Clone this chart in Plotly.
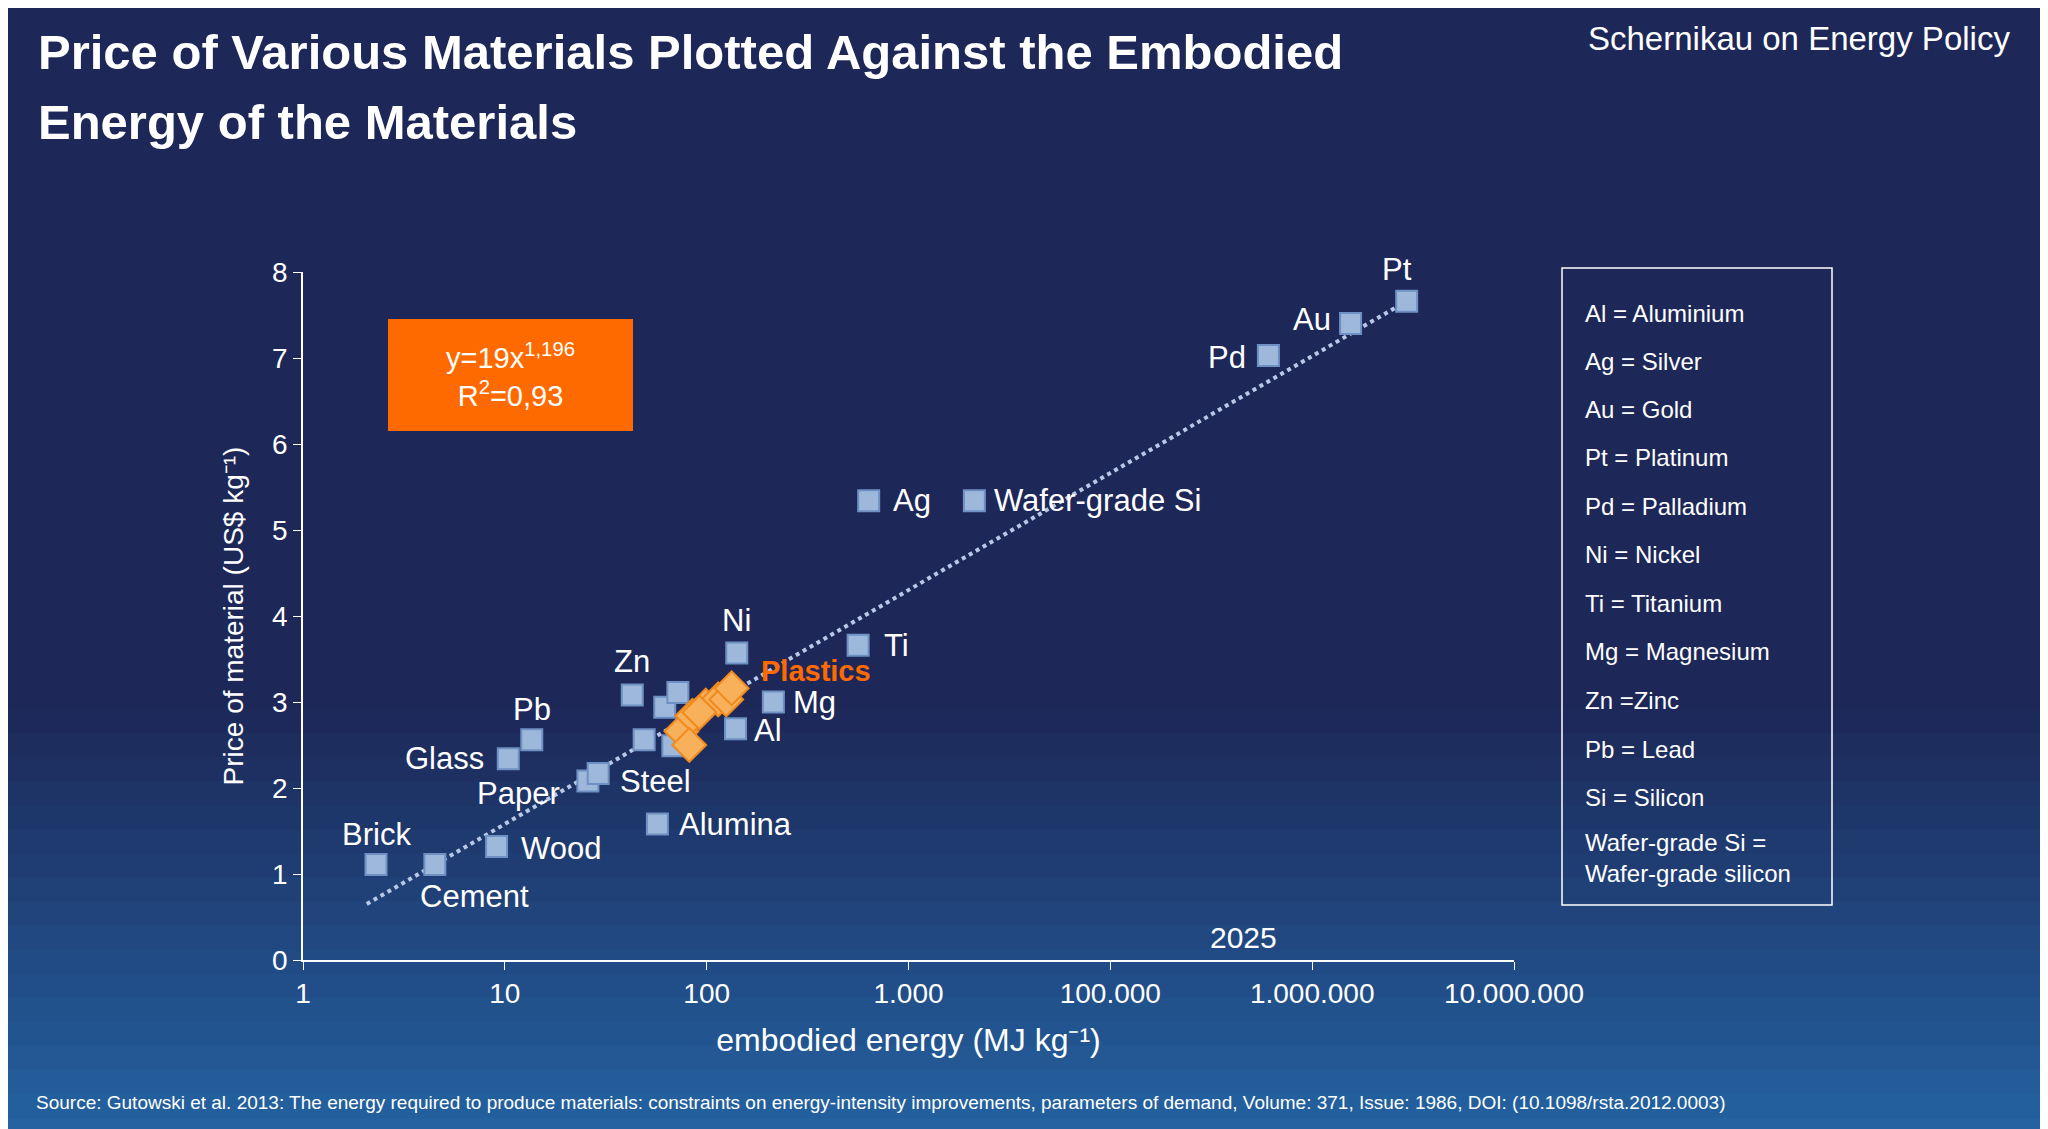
import math
import plotly.graph_objects as go

# values (x = embodied energy on a log axis, y = price axis)
mat_names = ["Brick", "Cement", "Wood", "Paper", "Steel", "Glass", "Pb", "Zn", "m1", "m2", "m3", "m4",
             "Alumina", "Ni", "Al", "Mg", "Ti", "Ag", "Wafer-grade Si", "Pd", "Au", "Pt"]
mat_energy = [2.3, 4.5, 9.1, 25.8, 29, 10.4, 13.6, 42.8, 62, 72, 49, 68,
              57, 141, 139, 214, 563, 635, 2120, 60700, 155000, 294000]
mat_price = [1.11, 1.11, 1.32, 2.08, 2.17, 2.34, 2.56, 3.08, 2.94, 3.11, 2.56, 2.49,
             1.58, 3.57, 2.69, 3.0, 3.66, 5.34, 5.34, 7.03, 7.4, 7.66]

plastic_energy = [75, 85, 82, 99, 114, 125, 133, 92]
plastic_price = [2.66, 2.84, 2.5, 2.96, 3.03, 3.03, 3.16, 2.88]

trend_energy = [2.07, 294000]
trend_price = [0.65, 7.66]

x_tickvals = [1, 10, 100, 1000, 10000, 100000, 1000000]
x_ticktext = ["1", "10", "100", "1.000", "100.000", "1.000.000", "10.000.000"]

legend_lines = ["Al = Aluminium", "Ag = Silver", "Au = Gold", "Pt = Platinum", "Pd = Palladium",
                "Ni = Nickel", "Ti = Titanium", "Mg = Magnesium", "Zn =Zinc", "Pb = Lead",
                "Si = Silicon", "Wafer-grade Si =<br>Wafer-grade silicon"]

# label placement: (dx, dy, xanchor) in pixels, dy positive = down
label_pos = {
    "Brick": (0, -30, "center"), "Cement": (40, 32, "center"), "Wood": (22, 2, "left"),
    "Paper": (-26, 12, "right"), "Steel": (20, 8, "left"), "Glass": (-22, 0, "right"),
    "Pb": (0, -30, "center"), "Zn": (0, -34, "center"), "Alumina": (20, 0, "left"),
    "Ni": (0, -32, "center"), "Al": (16, 2, "left"), "Mg": (18, 0, "left"),
    "Ti": (24, 0, "left"), "Ag": (22, 0, "left"), "Wafer-grade Si": (18, 0, "left"),
    "Pd": (-20, 2, "right"), "Au": (-18, -4, "right"), "Pt": (-10, -32, "center"),
}
FONT = "Liberation Sans"

fig = go.Figure()

fig.add_trace(go.Scatter(x=trend_energy, y=trend_price, mode="lines",
                         line=dict(color="#b8c8e6", width=4, dash="dot"), hoverinfo="skip"))
fig.add_trace(go.Scatter(x=mat_energy, y=mat_price, mode="markers",
                         marker=dict(symbol="square", size=21, color="#9db8da",
                                     line=dict(color="#6f90c2", width=2))))
fig.add_trace(go.Scatter(x=plastic_energy, y=plastic_price, mode="markers",
                         marker=dict(symbol="diamond", size=26, color="#f8b05a",
                                     line=dict(color="#f08a1c", width=2))))

for n, xv, yv in zip(mat_names, mat_energy, mat_price):
    if n in label_pos:
        dx, dy, anc = label_pos[n]
        fig.add_annotation(x=math.log10(xv), y=yv, xref="x", yref="y", text=n, showarrow=False,
                           xshift=dx, yshift=-dy, xanchor=anc, yanchor="middle",
                           font=dict(size=31, color="white", family=FONT))

fig.add_annotation(x=math.log10(133), y=3.16, text="<b>Plastics</b>", showarrow=False, xanchor="left",
                   yanchor="middle", xshift=27, yshift=17, font=dict(size=29, color="#ff6a00", family=FONT))

# background gradient
top = (29, 40, 88)
bot = (37, 104, 168)
n_bands = 50
y_lo, y_hi = -0.3, 1.45
for i in range(n_bands):
    f0 = i / n_bands
    f1 = (i + 1) / n_bands
    t = max(0.0, 1 - (f0 + 0.5 / n_bands) / 0.38)
    c = tuple(int(top[k] + (bot[k] - top[k]) * t) for k in range(3))
    fig.add_shape(type="rect", xref="paper", yref="paper", x0=-0.4, x1=1.6,
                  y0=y_lo + f0 * (y_hi - y_lo), y1=y_lo + f1 * (y_hi - y_lo) + 0.002,
                  fillcolor="rgb(%d,%d,%d)" % c, line=dict(width=0), layer="below")

W, H = 2048, 1129
L, R, T, B = 295, 542, 264, 177
pw, ph = W - L - R, H - T - B


def px(x):
    return (x - 8 - L) / pw


def py(y):
    return (H - B - (y - 8)) / ph


# legend box
fig.add_shape(type="rect", xref="paper", yref="paper", x0=px(1562), x1=px(1832), y0=py(905), y1=py(268),
              line=dict(color="white", width=1.5), fillcolor="rgba(0,0,0,0)")
ys = [313, 361, 409, 457, 506, 554, 603, 651, 700, 749, 797]
for txt, yy in zip(legend_lines[:-1], ys):
    fig.add_annotation(xref="paper", yref="paper", x=px(1583), y=py(yy), text=txt, showarrow=False,
                       xanchor="left", yanchor="middle", font=dict(size=24, color="white", family=FONT))
fig.add_annotation(xref="paper", yref="paper", x=px(1583), y=py(858), text=legend_lines[-1], showarrow=False,
                   xanchor="left", yanchor="middle", align="left",
                   font=dict(size=24, color="white", family=FONT))

# equation box
fig.add_shape(type="rect", xref="paper", yref="paper", x0=px(388), x1=px(633), y0=py(431), y1=py(319),
              fillcolor="#ff6a00", line=dict(width=0))
fig.add_annotation(xref="paper", yref="paper", x=px(510), y=py(375), xanchor="center", yanchor="middle",
                   text="y=19x<sup>1,196</sup><br>R<sup>2</sup>=0,93", showarrow=False,
                   font=dict(size=29, color="white", family=FONT))

fig.add_annotation(xref="paper", yref="paper", x=px(1243), y=py(937), xanchor="center", yanchor="middle",
                   text="2025", showarrow=False, font=dict(size=30, color="white", family=FONT))
fig.add_annotation(xref="paper", yref="paper", x=px(36), y=py(52), xanchor="left", yanchor="middle",
                   text="<b>Price of Various Materials Plotted Against the Embodied</b>", showarrow=False,
                   font=dict(size=49, color="white", family=FONT))
fig.add_annotation(xref="paper", yref="paper", x=px(36), y=py(122), xanchor="left", yanchor="middle",
                   text="<b>Energy of the Materials</b>", showarrow=False,
                   font=dict(size=49, color="white", family=FONT))
fig.add_annotation(xref="paper", yref="paper", x=px(2012), y=py(38), xanchor="right", yanchor="middle",
                   text="Schernikau on Energy Policy", showarrow=False,
                   font=dict(size=33, color="white", family=FONT))
fig.add_annotation(xref="paper", yref="paper", x=px(34), y=py(1102), xanchor="left", yanchor="middle",
                   text="Source: Gutowski et al. 2013: The energy required to produce materials: constraints on energy-intensity improvements, parameters of demand, Volume: 371, Issue: 1986, DOI: (10.1098/rsta.2012.0003)",
                   showarrow=False, font=dict(size=19, color="white", family=FONT))

fig.update_layout(
    width=W, height=H, showlegend=False,
    margin=dict(l=L, r=R, t=T, b=B),
    paper_bgcolor="#1d2858", plot_bgcolor="rgba(0,0,0,0)",
    font=dict(family=FONT, color="white"),
    xaxis=dict(type="log", range=[0, 6], tickvals=x_tickvals, ticktext=x_ticktext,
               showgrid=False, zeroline=False, showline=True, linecolor="white", linewidth=1.5,
               ticks="outside", tickcolor="white", ticklen=8, tickfont=dict(size=28),
               title=dict(text="embodied energy (MJ kg⁻¹)", font=dict(size=32), standoff=20)),
    yaxis=dict(range=[0, 8], dtick=1, showgrid=False, zeroline=False, showline=True,
               linecolor="white", linewidth=1.5, ticks="outside", tickcolor="white", ticklen=8,
               tickfont=dict(size=28),
               title=dict(text="Price of material (US$ kg⁻¹)", font=dict(size=28), standoff=20)),
)

fig.write_html("out.html")
